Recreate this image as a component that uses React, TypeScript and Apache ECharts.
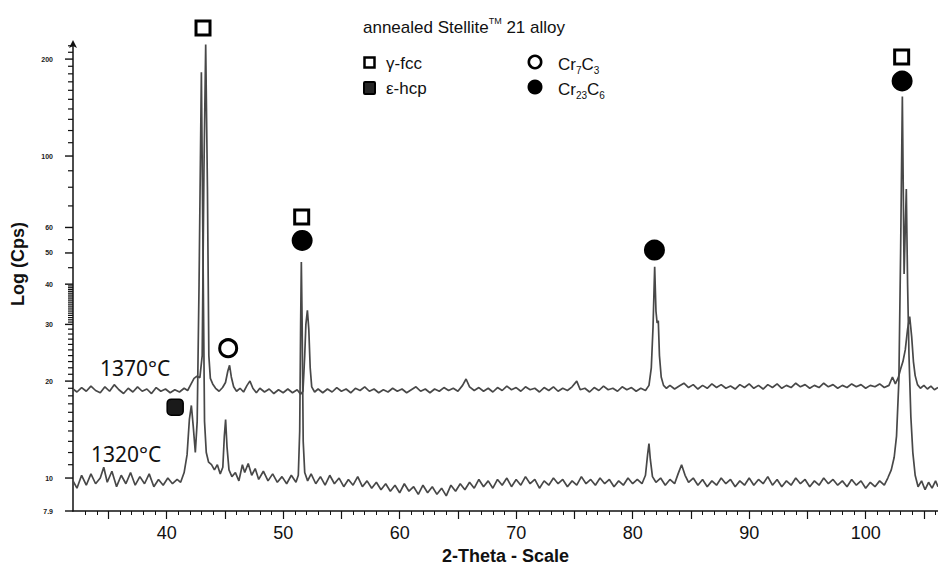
import React, { useEffect, useRef } from 'react';
import * as echarts from 'echarts';

// 2-Theta (deg), counts per second
const trace1370: [number, number][] = [
  [31.96,18.9],[32.3,18.5],[32.7,19.1],[33.1,18.6],[33.5,19.3],[33.9,18.7],[34.3,18.4],[34.7,19.2],[35.1,18.6],[35.5,19.5],
  [35.9,18.8],[36.3,18.3],[36.7,19.0],[37.1,18.5],[37.5,19.2],[37.9,18.6],[38.3,18.9],[38.7,18.3],[39.1,19.1],[39.5,18.6],
  [39.9,18.9],[40.3,18.4],[40.7,18.8],[41.1,18.5],[41.5,19.0],[41.8,18.7],[42.1,19.6],[42.35,20.4],[42.6,20.7],[42.85,20.5],
  [43.05,24],[43.2,90],[43.35,222],[43.5,80],[43.62,24],[43.75,20.4],[43.95,19.6],[44.2,19.0],[44.5,18.6],[44.8,19.1],
  [45.05,19.8],[45.25,21.5],[45.4,22.4],[45.55,20.6],[45.75,19.2],[46.0,18.6],[46.3,19.0],[46.6,18.5],[46.9,19.4],[47.15,20.0],
  [47.4,19.0],[47.7,18.4],[48.0,19.0],[48.4,18.5],[48.8,18.9],[49.2,18.3],[49.6,18.8],[50.0,18.4],[50.4,18.9],[50.8,18.4],
  [51.2,18.8],[51.5,18.2],[51.7,18.6],[51.85,24],[51.95,30],[52.08,33.2],[52.2,29],[52.32,22],[52.45,19.2],[52.7,18.5],
  [53.0,18.9],[53.4,18.4],[53.8,18.9],[54.2,18.5],[54.6,19.1],[55.0,18.6],[55.4,18.9],[55.8,18.4],[56.2,19.0],[56.6,18.7],
  [57.0,19.2],[57.4,18.6],[57.8,18.9],[58.2,18.4],[58.6,18.8],[59.0,18.5],[59.4,19.0],[59.8,18.6],[60.2,18.9],[60.6,18.4],
  [61.0,18.8],[61.4,19.2],[61.8,18.6],[62.2,18.9],[62.6,18.4],[63.0,18.9],[63.4,18.6],[63.8,19.1],[64.2,18.7],[64.6,19.0],
  [65.0,18.6],[65.4,19.4],[65.7,20.3],[66.0,19.2],[66.4,18.7],[66.8,19.1],[67.2,18.6],[67.6,19.0],[68.0,18.5],[68.4,19.1],
  [68.8,18.7],[69.2,19.3],[69.6,18.8],[70.0,19.1],[70.4,18.6],[70.8,19.2],[71.2,18.8],[71.6,19.0],[72.0,18.5],[72.4,19.1],
  [72.8,18.7],[73.2,19.2],[73.6,18.6],[74.0,19.0],[74.4,18.7],[74.8,19.2],[75.2,20.0],[75.5,18.8],[75.9,19.0],[76.3,18.5],
  [76.7,19.1],[77.1,18.7],[77.5,19.3],[77.9,18.8],[78.3,19.0],[78.7,18.6],[79.1,19.2],[79.5,18.8],[79.9,19.1],[80.3,18.6],
  [80.7,19.0],[81.1,18.7],[81.4,19.4],[81.6,22],[81.75,29.5],[81.89,45.3],[82.0,33],[82.1,30.3],[82.2,30.8],[82.3,24],
  [82.45,20.6],[82.65,19.4],[82.9,19.0],[83.2,19.4],[83.6,18.9],[84.0,19.3],[84.4,19.7],[84.8,19.1],[85.2,19.5],[85.6,18.9],
  [86.0,19.4],[86.4,19.0],[86.8,19.6],[87.2,19.1],[87.6,19.5],[88.0,19.0],[88.4,19.3],[88.8,18.9],[89.2,19.5],[89.6,19.1],
  [90.0,19.6],[90.4,19.0],[90.8,19.4],[91.2,18.9],[91.6,19.5],[92.0,19.1],[92.4,19.6],[92.8,19.0],[93.2,19.4],[93.6,19.1],
  [94.0,19.7],[94.4,19.2],[94.8,19.5],[95.2,19.0],[95.6,19.4],[96.0,19.1],[96.4,19.7],[96.8,19.2],[97.2,19.5],[97.6,19.0],
  [98.0,19.4],[98.4,19.1],[98.8,19.6],[99.2,19.2],[99.6,19.5],[100.0,19.0],[100.4,19.4],[100.8,19.2],[101.2,19.6],[101.6,19.1],
  [102.0,19.4],[102.3,20.6],[102.55,19.6],[102.8,20.5],[103.0,21.8],[103.2,23],[103.4,25],[103.6,29],[103.78,31.7],[103.95,27.5],
  [104.1,23],[104.25,20.8],[104.45,19.5],[104.7,19.0],[105.0,19.4],[105.3,18.9],[105.6,19.3],[105.9,18.8],[106.21,19.1]
];

const trace1320: [number, number][] = [
  [31.96,9.8],[32.3,9.3],[32.7,10.2],[33.1,9.5],[33.5,10.3],[33.9,9.6],[34.3,10.0],[34.6,10.8],[34.9,9.7],[35.3,10.5],
  [35.7,9.4],[36.1,10.2],[36.5,9.6],[36.9,10.4],[37.3,9.5],[37.7,10.1],[38.1,9.6],[38.5,10.3],[38.9,9.4],[39.3,9.9],
  [39.7,9.5],[40.1,10.0],[40.5,9.6],[40.9,9.9],[41.2,9.7],[41.5,10.4],[41.75,11.8],[41.95,15.2],[42.12,16.8],[42.28,14.5],
  [42.46,12.0],[42.62,15],[42.78,40],[42.98,182],[43.12,50],[43.25,15],[43.4,12.0],[43.6,11.2],[43.85,11.0],[44.1,10.6],
  [44.35,11.0],[44.6,10.3],[44.82,10.8],[44.95,13.5],[45.06,15.2],[45.18,12.5],[45.35,10.6],[45.6,10.1],[45.9,10.4],[46.2,9.8],
  [46.5,11.0],[46.7,10.4],[47.0,11.1],[47.3,10.2],[47.6,10.7],[47.9,9.9],[48.3,10.5],[48.7,9.8],[49.1,10.3],[49.5,9.7],
  [49.9,10.1],[50.3,9.6],[50.7,10.2],[51.1,9.7],[51.3,10.2],[51.42,14],[51.5,30],[51.56,46.9],[51.63,30],[51.72,13],
  [51.85,10.4],[52.1,9.8],[52.4,10.3],[52.8,9.6],[53.2,10.1],[53.6,9.5],[54.0,10.2],[54.4,9.6],[54.8,10.0],[55.2,9.4],
  [55.6,9.9],[56.0,9.5],[56.4,10.1],[56.8,9.4],[57.2,9.8],[57.6,9.3],[58.0,9.7],[58.4,9.2],[58.8,9.6],[59.2,9.1],
  [59.6,9.5],[60.0,9.0],[60.4,9.6],[60.8,9.1],[61.2,9.4],[61.6,8.9],[62.0,9.5],[62.4,9.0],[62.8,9.4],[63.2,8.9],
  [63.6,9.3],[64.0,8.8],[64.4,9.5],[64.8,9.1],[65.2,9.6],[65.6,9.2],[66.0,9.7],[66.4,9.3],[66.8,9.9],[67.2,9.4],
  [67.6,9.8],[68.0,9.3],[68.4,9.9],[68.8,9.5],[69.2,10.0],[69.6,9.4],[70.0,9.9],[70.4,9.5],[70.8,10.1],[71.2,9.6],
  [71.6,9.9],[72.0,9.3],[72.4,9.8],[72.8,9.5],[73.2,10.0],[73.6,9.6],[74.0,9.9],[74.4,9.4],[74.8,9.8],[75.2,9.5],
  [75.6,10.1],[76.0,9.6],[76.4,9.9],[76.8,9.5],[77.2,10.0],[77.6,9.6],[78.0,9.9],[78.4,9.4],[78.8,9.8],[79.2,9.5],
  [79.6,10.0],[80.0,9.6],[80.4,9.9],[80.8,9.6],[81.1,10.2],[81.28,11.8],[81.4,12.8],[81.52,11.4],[81.7,10.1],[82.0,9.7],
  [82.4,10.0],[82.8,9.5],[83.2,9.9],[83.6,9.6],[83.9,10.3],[84.2,11.0],[84.5,10.2],[84.8,9.7],[85.2,10.0],[85.6,9.5],
  [86.0,9.9],[86.4,9.4],[86.8,9.8],[87.2,9.5],[87.6,10.0],[88.0,9.6],[88.4,9.9],[88.8,9.4],[89.2,9.8],[89.6,9.5],
  [90.0,10.0],[90.4,9.5],[90.8,9.9],[91.2,9.6],[91.6,10.1],[92.0,9.5],[92.4,9.9],[92.8,9.4],[93.2,9.8],[93.6,9.5],
  [94.0,10.0],[94.4,9.6],[94.8,9.9],[95.2,9.4],[95.6,9.8],[96.0,9.5],[96.4,10.0],[96.8,9.6],[97.2,9.9],[97.6,9.5],
  [98.0,9.8],[98.4,9.4],[98.8,9.9],[99.2,9.5],[99.6,9.8],[100.0,9.3],[100.4,9.7],[100.8,9.4],[101.2,9.8],[101.6,9.5],
  [101.9,10.0],[102.2,10.6],[102.45,11.6],[102.65,13.5],[102.85,20],[103.0,50],[103.15,153],[103.3,43],[103.49,79],[103.6,40],
  [103.72,24],[103.88,15.5],[104.05,12.0],[104.25,10.2],[104.5,9.4],[104.8,9.8],[105.1,9.2],[105.4,9.7],[105.7,9.3],[106.0,9.8],
  [106.21,9.4]
];

// Phase markers placed above peaks: [2-Theta, Cps]
const gammaFccMarks = [[43.12, 249.7], [51.59, 64.7], [103.09, 203]];
const cr23c6Marks = [[51.63, 54.7], [81.87, 51.05], [103.13, 171]];
const cr7c3Marks = [[45.28, 25.3]];
const epsHcpMarks = [[40.73, 16.6]];

const xLabelValues = [40, 50, 60, 70, 80, 90, 100];
const xMajorTicks = [35, 40, 45, 50, 55, 60, 65, 70, 75, 80, 85, 90, 95, 100, 105];
const xMinorTicks = [33, 34, 36, 37, 38, 39, 41, 42, 43, 44, 46, 47, 48, 49, 51, 52, 53, 54, 56, 57, 58, 59,
  61, 62, 63, 64, 66, 67, 68, 69, 71, 72, 73, 74, 76, 77, 78, 79, 81, 82, 83, 84, 86, 87, 88, 89,
  91, 92, 93, 94, 96, 97, 98, 99, 101, 102, 103, 104, 106];
const yLabelValues = [7.9, 10, 20, 30, 40, 50, 60, 100, 200];
const yMinorTicks = [11, 12, 13, 14, 15, 16, 17, 18, 19, 21, 22, 23, 24, 25, 26, 27, 28, 29,
  30.5, 31, 31.5, 32, 32.5, 33, 33.5, 34, 34.5, 35, 35.5, 36, 36.5, 37, 37.5, 38, 38.5, 39, 39.5,
  45, 55, 70, 80, 90, 110, 120, 130, 140, 150, 160, 170, 180, 190, 210, 220];

const X_MIN = 31.96;
const X_MAX = 106.21;
const Y_MIN = 7.9;
const Y_MAX = 224.4;

const FONT = "'Liberation Sans', Arial, sans-serif";

export default function App() {
  const ref = useRef<HTMLDivElement>(null);
  useEffect(() => {
    if (!ref.current) return;
    const chart = echarts.init(ref.current, null, { renderer: 'svg' });
    const traceStyle = { color: '#484848', width: 1.7 };
    chart.setOption({
      animation: false,
      backgroundColor: '#ffffff',
      textStyle: { fontFamily: FONT },
      grid: { left: 73, right: 0, top: 43, bottom: 60, containLabel: false },
      xAxis: [
        {
          type: 'value', position: 'bottom', min: X_MIN, max: X_MAX,
          axisLine: { show: true, lineStyle: { color: '#111', width: 1.5 } },
          axisTick: { show: true, customValues: xMajorTicks, length: 8, lineStyle: { color: '#111', width: 1.2 } },
          axisLabel: { customValues: xLabelValues, fontSize: 18, color: '#111', margin: 13, fontFamily: FONT },
          splitLine: { show: false },
          name: '2-Theta - Scale', nameLocation: 'middle', nameGap: 27,
          nameTextStyle: { fontSize: 18, fontWeight: 'bold', color: '#111', fontFamily: FONT }
        },
        {
          type: 'value', position: 'bottom', min: X_MIN, max: X_MAX,
          axisLine: { show: false },
          axisTick: { show: true, customValues: xMinorTicks, length: 4, lineStyle: { color: '#111', width: 1 } },
          axisLabel: { show: false },
          splitLine: { show: false }
        }
      ],
      yAxis: {
        type: 'log', logBase: 10, min: Y_MIN, max: Y_MAX,
        axisLine: { show: true, symbol: ['none', 'arrow'], symbolSize: [6, 8], symbolOffset: [0, 3], lineStyle: { color: '#111', width: 1.5 } },
        axisTick: { show: false },
        axisLabel: { show: false },
        splitLine: { show: false }
      },
      graphic: [
        { type: 'text', x: 18, y: 264, rotation: Math.PI / 2,
          style: { text: 'Log (Cps)', fontSize: 18, fontWeight: 'bold', fill: '#111', align: 'center', verticalAlign: 'middle', fontFamily: FONT } },
        { type: 'text', x: 100, y: 368,
          style: { text: '1370°C', fontSize: 21, fill: '#111', align: 'left', verticalAlign: 'middle', fontFamily: "'Noto Sans', sans-serif" } },
        { type: 'text', x: 91, y: 454,
          style: { text: '1320°C', fontSize: 21, fill: '#111', align: 'left', verticalAlign: 'middle', fontFamily: "'Noto Sans', sans-serif" } },
        { type: 'text', x: 363, y: 27,
          style: {
            text: '{a|annealed Stellite}{s|TM}{a| 21 alloy}', align: 'left', verticalAlign: 'middle', fontFamily: FONT,
            rich: {
              a: { fontSize: 17, lineHeight: 22, fill: '#111', fontFamily: FONT },
              s: { fontSize: 9, lineHeight: 12, verticalAlign: 'top', fill: '#111', fontFamily: FONT }
            }
          } },
        { type: 'rect', shape: { x: 364.5, y: 57.5, width: 10, height: 10 }, style: { fill: '#fff', stroke: '#000', lineWidth: 2.5 } },
        { type: 'rect', shape: { x: 364, y: 82, width: 11, height: 12, r: 1 }, style: { fill: '#262626', stroke: '#000', lineWidth: 2 } },
        { type: 'text', x: 386, y: 63, style: { text: 'γ-fcc', fontSize: 17, fill: '#111', verticalAlign: 'middle', fontFamily: FONT } },
        { type: 'text', x: 386, y: 88, style: { text: 'ε-hcp', fontSize: 17, fill: '#111', verticalAlign: 'middle', fontFamily: FONT } },
        { type: 'circle', shape: { cx: 535, cy: 62, r: 6.2 }, style: { fill: '#fff', stroke: '#000', lineWidth: 2.6 } },
        { type: 'circle', shape: { cx: 535, cy: 87, r: 7.5 }, style: { fill: '#000' } },
        { type: 'text', x: 558, y: 64,
          style: { text: '{a|Cr}{b|7}{a|C}{b|3}', verticalAlign: 'middle', fontFamily: FONT,
            rich: { a: { fontSize: 17, lineHeight: 22, fill: '#111' }, b: { fontSize: 10, lineHeight: 10, verticalAlign: 'bottom', fill: '#111' } } } },
        { type: 'text', x: 558, y: 89,
          style: { text: '{a|Cr}{b|23}{a|C}{b|6}', verticalAlign: 'middle', fontFamily: FONT,
            rich: { a: { fontSize: 17, lineHeight: 22, fill: '#111' }, b: { fontSize: 10, lineHeight: 10, verticalAlign: 'bottom', fill: '#111' } } } }
      ],
      series: [
        { name: '1320°C', type: 'line', data: trace1320, showSymbol: false, symbol: 'none', lineStyle: traceStyle, z: 2 },
        { name: '1370°C', type: 'line', data: trace1370, showSymbol: false, symbol: 'none', lineStyle: traceStyle, z: 2 },
        { name: 'yMinorTicks', type: 'scatter', silent: true, clip: false, symbol: 'rect', symbolSize: [5, 1.2], symbolOffset: [-2.5, 0],
          itemStyle: { color: '#111', opacity: 1 }, data: yMinorTicks.map(v => [X_MIN, v]), z: 3 },
        { name: 'yMajorTicks', type: 'scatter', silent: true, clip: false, symbol: 'rect', symbolSize: [8, 1.4], symbolOffset: [-4, 0],
          itemStyle: { color: '#111', opacity: 1 }, data: yLabelValues.map(v => [X_MIN, v]), z: 3,
          label: { show: true, position: 'left', distance: 12, fontSize: 7, fontWeight: 'bold', color: '#1a1a1a', fontFamily: FONT,
            formatter: (p: any) => String(p.value[1]) } },
        { name: 'γ-fcc', type: 'scatter', clip: false, symbol: 'rect', symbolSize: 14, data: gammaFccMarks,
          itemStyle: { color: '#fff', borderColor: '#000', borderWidth: 3, opacity: 1 }, z: 5 },
        { name: 'Cr23C6', type: 'scatter', clip: false, symbol: 'circle', symbolSize: 21, data: cr23c6Marks,
          itemStyle: { color: '#000', opacity: 1 }, z: 5 },
        { name: 'Cr7C3', type: 'scatter', clip: false, symbol: 'circle', symbolSize: 17, data: cr7c3Marks,
          itemStyle: { color: '#fff', borderColor: '#000', borderWidth: 3, opacity: 1 }, z: 5 },
        { name: 'ε-hcp', type: 'scatter', clip: false, symbol: 'roundRect', symbolSize: 16, data: epsHcpMarks,
          itemStyle: { color: '#1a1a1a', borderColor: '#000', borderWidth: 1.5, opacity: 1 }, z: 5 }
      ]
    });
    return () => chart.dispose();
  }, []);
  return <div ref={ref} style={{ position: 'absolute', left: 0, top: 0, width: 938, height: 571, background: '#fff' }} />;
}
